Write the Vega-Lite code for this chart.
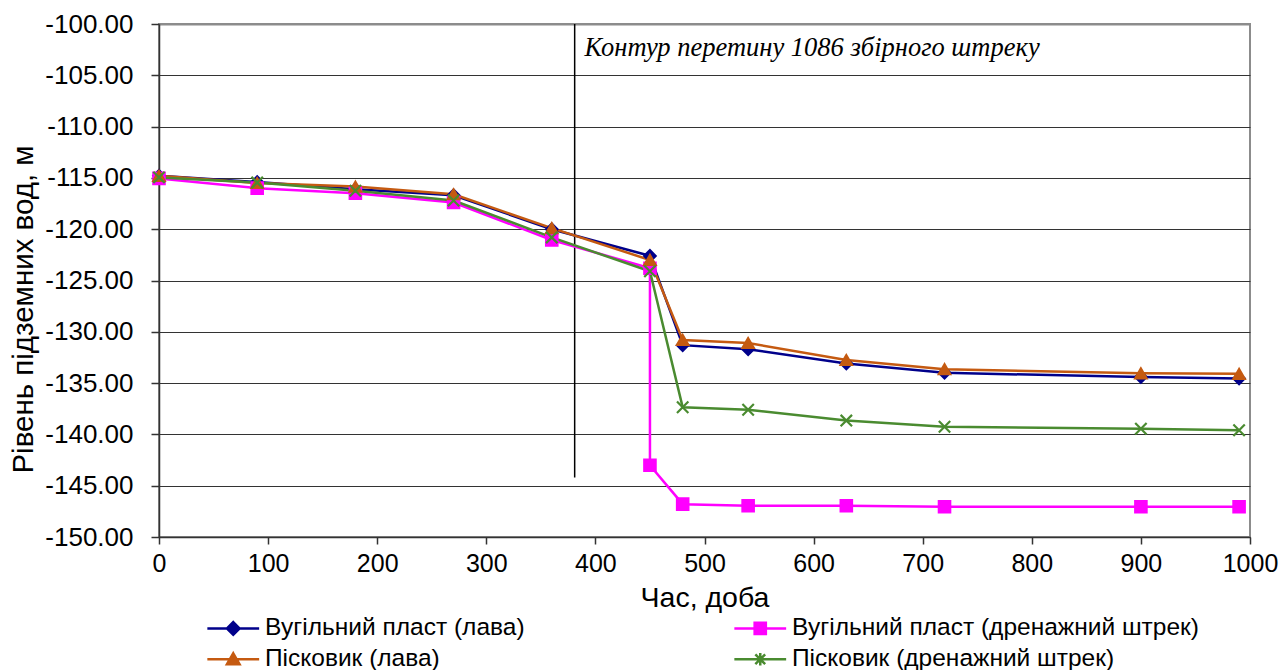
{
  "$schema": "https://vega.github.io/schema/vega-lite/v6.json",
  "width": 1091,
  "height": 513,
  "autosize": {"type": "none"},
  "padding": {"left": 159, "top": 24, "right": 32, "bottom": 133},
  "background": "white",
  "config": {
    "view": {"stroke": "#8c8c8c", "strokeWidth": 2},
    "font": "Liberation Sans"
  },
  "layer": [
    {
      "data": {"values": [{"x": 381, "y": -100, "y2": -144.2}]},
      "mark": {"type": "rule", "color": "black", "strokeWidth": 1.5},
      "encoding": {
        "x": {"field": "x", "type": "quantitative", "scale": {"domain": [0, 1000], "nice": false}},
        "y": {"field": "y", "type": "quantitative", "scale": {"domain": [-150, -100], "nice": false}},
        "y2": {"field": "y2"}
      }
    },
    {
      "data": {"values": [{"x": 390, "y": -102.3, "label": "Контур перетину 1086 збірного штреку"}]},
      "mark": {"type": "text", "font": "Liberation Serif", "fontStyle": "italic", "fontSize": 26.5, "align": "left", "baseline": "middle", "color": "black"},
      "encoding": {
        "x": {"field": "x", "type": "quantitative"},
        "y": {"field": "y", "type": "quantitative"},
        "text": {"field": "label"}
      }
    },
    {
      "data": {"name": "series"},
      "mark": {"type": "line", "strokeWidth": 2.5},
      "encoding": {
        "x": {
          "field": "x", "type": "quantitative",
          "scale": {"domain": [0, 1000], "nice": false},
          "axis": {
            "values": [0, 100, 200, 300, 400, 500, 600, 700, 800, 900, 1000],
            "format": "d",
            "labelFlush": false,
            "title": "Час, доба",
            "grid": false,
            "domainColor": "#333333", "domainWidth": 1.5,
            "tickColor": "#333333", "tickSize": 7, "tickWidth": 1.5,
            "labelFontSize": 25, "labelColor": "black", "labelPadding": 7, "labelFont": "Liberation Sans",
            "titleFontSize": 28.5, "titleFontWeight": "normal", "titleColor": "black", "titleFont": "Liberation Sans",
            "titleY": 60, "titleBaseline": "middle"
          }
        },
        "y": {
          "field": "y", "type": "quantitative",
          "scale": {"domain": [-150, -100], "nice": false},
          "axis": {
            "values": [-150, -145, -140, -135, -130, -125, -120, -115, -110, -105, -100],
            "labelExpr": "(datum.value < 0 ? '-' : '') + format(abs(datum.value), '.2f')",
            "labelFlush": false,
            "title": "Рівень підземних вод, м",
            "grid": true,
            "gridColor": {"condition": {"test": "datum.value === -100", "value": "#8c8c8c"}, "value": "#333333"},
            "gridWidth": {"condition": {"test": "datum.value === -100", "value": 2}, "value": 1.2},
            "domainColor": "#333333", "domainWidth": 1.5,
            "tickColor": "#333333", "tickSize": 8, "tickWidth": 1.5,
            "labelFontSize": 26, "labelColor": "black", "labelPadding": 18, "labelFont": "Liberation Sans",
            "titleFontSize": 29.5, "titleFontWeight": "normal", "titleColor": "black", "titleFont": "Liberation Sans",
            "titleX": -136, "titleY": 285, "titleBaseline": "middle"
          }
        },
        "order": {"field": "i", "type": "quantitative"},
        "color": {
          "field": "series", "type": "nominal",
          "scale": {
            "domain": ["Вугільний пласт (лава)", "Вугільний пласт (дренажний штрек)", "Пісковик (лава)", "Пісковик (дренажний штрек)"],
            "range": ["#00008b", "#ff00ff", "#c55a11", "#4a8b30"]
          },
          "legend": {
            "orient": "none",
            "direction": "horizontal",
            "legendX": 62,
            "legendY": 592,
            "columns": 2,
            "columnPadding": 204,
            "rowPadding": 6,
            "padding": 0,
            "title": null,
            "labelFontSize": 24.5,
            "labelFont": "Liberation Sans",
            "labelColor": "black",
            "labelLimit": 600,
            "symbolSize": 196,
            "labelOffset": 19.5,
            "encode": {
              "symbols": {
                "update": {
                  "shape": {"signal": "datum.value === 'Вугільний пласт (лава)' ? 'M-3.7,0H3.7M0,-0.9L0.9,0L0,0.9L-0.9,0Z' : datum.value === 'Вугільний пласт (дренажний штрек)' ? 'M-3.7,0H3.7M-0.8,-0.8H0.8V0.8H-0.8Z' : datum.value === 'Пісковик (лава)' ? 'M-3.7,0H3.7M0,-0.85L0.9,0.7L-0.9,0.7Z' : 'M-3.7,0H3.7M-0.7,-0.7L0.7,0.7M-0.7,0.7L0.7,-0.7M0,-0.9V0.9'"},
                  "fill": {"signal": "scale('color', datum.value)"},
                  "stroke": {"signal": "scale('color', datum.value)"},
                  "strokeWidth": {"value": 2.5},
                  "opacity": {"value": 1}
                }
              }
            }
          }
        }
      }
    },
    {
      "data": {"name": "series"},
      "mark": {"type": "point", "filled": true, "opacity": 1, "strokeWidth": 2.2},
      "encoding": {
        "x": {"field": "x", "type": "quantitative"},
        "y": {"field": "y", "type": "quantitative"},
        "fill": {
          "field": "series", "type": "nominal", "legend": null,
          "scale": {
            "domain": ["Вугільний пласт (лава)", "Пісковик (лава)", "Вугільний пласт (дренажний штрек)", "Пісковик (дренажний штрек)"],
            "range": ["#00008b", "#c55a11", "#ff00ff", "#4a8b30"]
          }
        },
        "stroke": {
          "field": "series", "type": "nominal", "legend": null,
          "scale": {
            "domain": ["Вугільний пласт (лава)", "Пісковик (лава)", "Вугільний пласт (дренажний штрек)", "Пісковик (дренажний штрек)"],
            "range": ["#00008b", "#c55a11", "#ff00ff", "#4a8b30"]
          }
        },
        "shape": {
          "field": "series", "type": "nominal", "legend": null,
          "scale": {
            "domain": ["Вугільний пласт (лава)", "Пісковик (лава)", "Вугільний пласт (дренажний штрек)", "Пісковик (дренажний штрек)"],
            "range": ["diamond", "triangle-up", "square", "M-1,-1L1,1M-1,1L1,-1"]
          }
        },
        "size": {
          "field": "series", "type": "nominal", "legend": null,
          "scale": {
            "domain": ["Вугільний пласт (лава)", "Пісковик (лава)", "Вугільний пласт (дренажний штрек)", "Пісковик (дренажний штрек)"],
            "range": [130, 130, 160, 40]
          }
        }
      }
    }
  ],
  "datasets": {
    "series": [
      {"series": "Вугільний пласт (лава)", "i": 1, "x": 0, "y": -114.8},
      {"series": "Вугільний пласт (лава)", "i": 2, "x": 90, "y": -115.4},
      {"series": "Вугільний пласт (лава)", "i": 3, "x": 180, "y": -116.1},
      {"series": "Вугільний пласт (лава)", "i": 4, "x": 270, "y": -116.7},
      {"series": "Вугільний пласт (лава)", "i": 5, "x": 360, "y": -120.0},
      {"series": "Вугільний пласт (лава)", "i": 6, "x": 450, "y": -122.6},
      {"series": "Вугільний пласт (лава)", "i": 7, "x": 480, "y": -131.3},
      {"series": "Вугільний пласт (лава)", "i": 8, "x": 540, "y": -131.7},
      {"series": "Вугільний пласт (лава)", "i": 9, "x": 630, "y": -133.1},
      {"series": "Вугільний пласт (лава)", "i": 10, "x": 720, "y": -134.0},
      {"series": "Вугільний пласт (лава)", "i": 11, "x": 900, "y": -134.4},
      {"series": "Вугільний пласт (лава)", "i": 12, "x": 990, "y": -134.55},
      {"series": "Вугільний пласт (дренажний штрек)", "i": 1, "x": 0, "y": -115.05},
      {"series": "Вугільний пласт (дренажний штрек)", "i": 2, "x": 90, "y": -116.0},
      {"series": "Вугільний пласт (дренажний штрек)", "i": 3, "x": 180, "y": -116.5},
      {"series": "Вугільний пласт (дренажний штрек)", "i": 4, "x": 270, "y": -117.4},
      {"series": "Вугільний пласт (дренажний штрек)", "i": 5, "x": 360, "y": -121.05},
      {"series": "Вугільний пласт (дренажний штрек)", "i": 6, "x": 450, "y": -123.8},
      {"series": "Вугільний пласт (дренажний штрек)", "i": 7, "x": 450, "y": -143.0},
      {"series": "Вугільний пласт (дренажний штрек)", "i": 8, "x": 480, "y": -146.8},
      {"series": "Вугільний пласт (дренажний штрек)", "i": 9, "x": 540, "y": -146.95},
      {"series": "Вугільний пласт (дренажний штрек)", "i": 10, "x": 630, "y": -146.95},
      {"series": "Вугільний пласт (дренажний штрек)", "i": 11, "x": 720, "y": -147.05},
      {"series": "Вугільний пласт (дренажний штрек)", "i": 12, "x": 900, "y": -147.05},
      {"series": "Вугільний пласт (дренажний штрек)", "i": 13, "x": 990, "y": -147.05},
      {"series": "Пісковик (лава)", "i": 1, "x": 0, "y": -114.8},
      {"series": "Пісковик (лава)", "i": 2, "x": 90, "y": -115.5},
      {"series": "Пісковик (лава)", "i": 3, "x": 180, "y": -115.85},
      {"series": "Пісковик (лава)", "i": 4, "x": 270, "y": -116.6},
      {"series": "Пісковик (лава)", "i": 5, "x": 360, "y": -119.9},
      {"series": "Пісковик (лава)", "i": 6, "x": 450, "y": -123.0},
      {"series": "Пісковик (лава)", "i": 7, "x": 480, "y": -130.8},
      {"series": "Пісковик (лава)", "i": 8, "x": 540, "y": -131.1},
      {"series": "Пісковик (лава)", "i": 9, "x": 630, "y": -132.75},
      {"series": "Пісковик (лава)", "i": 10, "x": 720, "y": -133.65},
      {"series": "Пісковик (лава)", "i": 11, "x": 900, "y": -134.05},
      {"series": "Пісковик (лава)", "i": 12, "x": 990, "y": -134.1},
      {"series": "Пісковик (дренажний штрек)", "i": 1, "x": 0, "y": -114.95},
      {"series": "Пісковик (дренажний штрек)", "i": 2, "x": 90, "y": -115.45},
      {"series": "Пісковик (дренажний штрек)", "i": 3, "x": 180, "y": -116.25},
      {"series": "Пісковик (дренажний штрек)", "i": 4, "x": 270, "y": -117.2},
      {"series": "Пісковик (дренажний штрек)", "i": 5, "x": 360, "y": -120.8},
      {"series": "Пісковик (дренажний штрек)", "i": 6, "x": 450, "y": -124.1},
      {"series": "Пісковик (дренажний штрек)", "i": 7, "x": 480, "y": -137.35},
      {"series": "Пісковик (дренажний штрек)", "i": 8, "x": 540, "y": -137.6},
      {"series": "Пісковик (дренажний штрек)", "i": 9, "x": 630, "y": -138.65},
      {"series": "Пісковик (дренажний штрек)", "i": 10, "x": 720, "y": -139.25},
      {"series": "Пісковик (дренажний штрек)", "i": 11, "x": 900, "y": -139.45},
      {"series": "Пісковик (дренажний штрек)", "i": 12, "x": 990, "y": -139.6}
    ]
  }
}
